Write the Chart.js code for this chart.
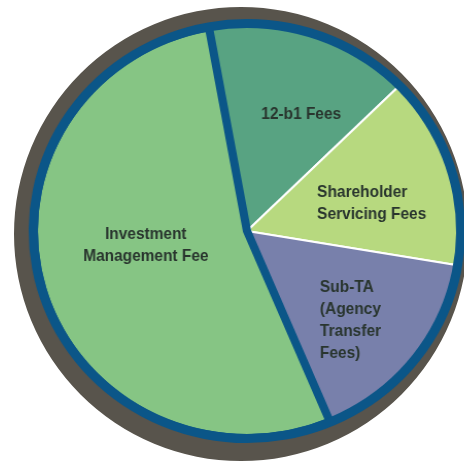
<!DOCTYPE html>
<html>
<head>
<meta charset="utf-8">
<title>Fund fee breakdown</title>
<script src="https://cdn.jsdelivr.net/npm/chart.js@4.4.1/dist/chart.umd.min.js"></script>
<style>
  html, body { margin: 0; padding: 0; background: #fff; overflow: hidden; }
  body { width: 464px; height: 462px; position: relative; }
  .pie { position: absolute; width: 460px; height: 460px; }
  #back { left: 11px; top: 4px; }
  /* the pie is drawn a touch wider than tall */
  #front { left: 17px; top: 1px; transform: scaleX(1.03); transform-origin: 230px 230px; }
</style>
</head>
<body>
<div class="pie" id="back"><canvas id="backCanvas"></canvas></div>
<div class="pie" id="front"><canvas id="chart"></canvas></div>
<script>
// fee slices, clockwise from just left of 12 o'clock
const categories = ['12-b1 Fees', 'Shareholder Servicing Fees', 'Sub-TA (Agency Transfer Fees)', 'Investment Management Fee'];
const shares = [15.5, 15, 16, 53.5];
const labelLines = [
  ['12-b1 Fees'],
  ['Shareholder', 'Servicing Fees'],
  ['Sub-TA', '(Agency', 'Transfer', 'Fees)'],
  ['Investment', 'Management Fee']
];

const sliceColors = ['#58a382', '#b7d97f', '#7880ab', '#86c584'];
const ringBlue = '#0b5688';
const rimGray = '#58544c';

// where each label block sits: fraction of the radius, and a nudge off the slice's mid angle (deg)
const labelRadius = [0.62, 0.60, 0.65, 0.48];
const labelNudge = [6.6, 4.6, 3.4, 8];
const labelAlign = ['center', 'left', 'left', 'center'];

const quiet = {
  responsive: true,
  maintainAspectRatio: false,
  animation: false,
  events: [],
  plugins: { legend: { display: false }, tooltip: { enabled: false } }
};

// dark rim behind the pie, sitting a little low and left like a drop shadow
new Chart(document.getElementById('backCanvas'), {
  type: 'pie',
  data: { labels: ['rim'], datasets: [{ data: [1], backgroundColor: rimGray, borderWidth: 0 }] },
  options: Object.assign({ radius: 227 }, quiet)
});

const sliceLabels = {
  id: 'sliceLabels',
  afterDatasetsDraw(chart) {
    const ctx = chart.ctx;
    const meta = chart.getDatasetMeta(1);
    ctx.save();
    ctx.font = 'bold 15px "Liberation Sans", Arial, sans-serif';
    ctx.fillStyle = '#29352e';
    ctx.textBaseline = 'middle';
    const lh = 22;
    meta.data.forEach((arc, i) => {
      const p = arc.getProps(['x', 'y', 'startAngle', 'endAngle', 'outerRadius'], true);
      const a = (p.startAngle + p.endAngle) / 2 + labelNudge[i] * Math.PI / 180;
      const cx = p.x + Math.cos(a) * p.outerRadius * labelRadius[i];
      const cy = p.y + Math.sin(a) * p.outerRadius * labelRadius[i];
      const lines = labelLines[i];
      const widest = Math.max(...lines.map(l => ctx.measureText(l).width));
      lines.forEach((line, k) => {
        const y = cy + (k - (lines.length - 1) / 2) * lh;
        const x = labelAlign[i] == 'left' ? cx - widest / 2 : cx;
        ctx.textAlign = labelAlign[i];
        ctx.save();
        ctx.translate(x, y);
        ctx.scale(1, 1.12);
        ctx.fillText(line, 0, 0);
        ctx.restore();
      });
    });
    ctx.restore();
  }
};

new Chart(document.getElementById('chart'), {
  type: 'pie',
  data: {
    labels: categories,
    datasets: [
      // thin blue band around the slices; its wide border makes up the ring
      { data: [1], backgroundColor: ringBlue, borderColor: ringBlue, borderWidth: 8, weight: 1 },
      {
        data: shares,
        backgroundColor: sliceColors,
        borderColor: ['#ffffff', '#ffffff', '#ffffff', ringBlue],
        borderWidth: [2, 2, 2, 8],
        weight: 207
      }
    ]
  },
  options: Object.assign({ radius: 208, rotation: -10.3 }, quiet),
  plugins: [sliceLabels]
});
</script>
</body>
</html>
